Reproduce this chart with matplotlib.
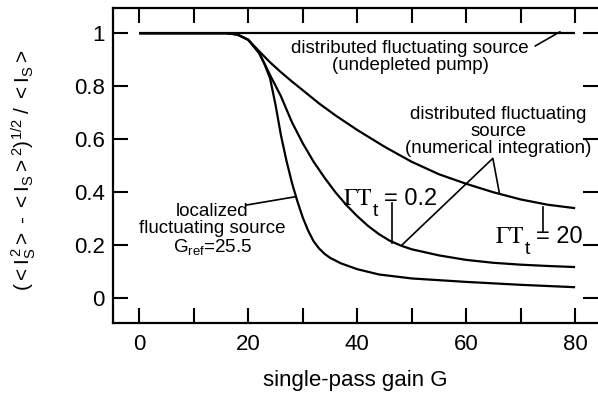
import matplotlib
matplotlib.use("Agg")
import matplotlib.pyplot as plt

plt.rcParams['font.family'] = ['Liberation Sans', 'DejaVu Sans']
plt.rcParams['mathtext.fontset'] = 'custom'
plt.rcParams['mathtext.rm'] = 'Liberation Sans'
plt.rcParams['mathtext.it'] = 'Liberation Sans:italic'
plt.rcParams['mathtext.sf'] = 'Liberation Sans'

# ---- data ----
g_flat = [0, 80]
y_flat = [1.0, 1.0]

g_num20 = [0, 16, 18, 20, 22, 24, 26, 28, 30, 33, 36, 40, 45, 50, 55, 60, 65, 70, 75, 80]
y_num20 = [1.0, 1.0, 0.995, 0.975, 0.932, 0.89, 0.853, 0.818, 0.785, 0.735, 0.69, 0.635,
           0.572, 0.515, 0.468, 0.432, 0.40, 0.373, 0.353, 0.34]

g_num02 = [0, 16, 18, 20, 22, 23, 24, 26, 28, 30, 32, 34, 36, 38, 40, 42, 44, 46, 48,
           50, 55, 60, 65, 70, 75, 80]
y_num02 = [1.0, 1.0, 0.995, 0.975, 0.925, 0.885, 0.842, 0.762, 0.665, 0.585, 0.515, 0.455,
           0.40, 0.352, 0.31, 0.273, 0.242, 0.217, 0.199, 0.185, 0.162, 0.145, 0.134,
           0.127, 0.122, 0.118]

g_loc = [0, 16, 18, 20, 22, 23, 24, 25, 26, 27, 28, 29, 30, 31, 32, 33, 34, 35, 37, 40,
         44, 50, 60, 70, 80]
y_loc = [1.0, 1.0, 0.995, 0.975, 0.925, 0.882, 0.83, 0.73, 0.615, 0.52, 0.437, 0.367,
         0.305, 0.255, 0.215, 0.188, 0.168, 0.153, 0.132, 0.11, 0.09, 0.075, 0.062, 0.051,
         0.042]

x_major = [0, 20, 40, 60, 80]
x_minor = [10, 30, 50, 70]
y_ticks = [0, 0.2, 0.4, 0.6, 0.8, 1]
y_ticklabels = ['0', '0.2', '0.4', '0.6', '0.8', '1']

# ---- figure ----
fig = plt.figure(figsize=(5.98, 3.93), dpi=100)
ax = fig.add_axes([113/598, 1-323/393, 1-113/598, (323-8)/393])

lw = 1.6
for g, y in [(g_flat, y_flat), (g_num20, y_num20), (g_num02, y_num02), (g_loc, y_loc)]:
    ax.plot(g, y, color='black', lw=lw, solid_capstyle='butt')

ax.set_xlim(-4.83, 84.2)
ax.set_ylim(-0.093, 1.095)

ax.set_xticks(x_major)
ax.set_xticks(x_minor, minor=True)
ax.set_yticks(y_ticks)
ax.set_yticklabels(y_ticklabels)
ax.tick_params(which='both', direction='in', length=11, width=1.5,
               top=True, right=True, labelsize=16, pad=6)
ax.tick_params(axis='x', pad=8)
for side in ['left', 'bottom', 'top']:
    ax.spines[side].set_linewidth(1.6)
ax.spines['right'].set_visible(False)

ax.set_xlabel('single-pass gain G', fontsize=16, labelpad=11)
fig.text(24/598, 1-170/393,
         r'$(<\mathrm{I}_\mathrm{S}^{\,2}>\ \text{-}\ <\mathrm{I}_\mathrm{S}>^2)^{1/2}\ /\ <\mathrm{I}_\mathrm{S}>$',
         rotation=90, ha='center', va='center', fontsize=15)

fs = 13.5
# undepleted pump
ax.text(49.7, 0.911, 'distributed fluctuating source\n(undepleted pump)',
        ha='center', va='center', fontsize=fs, linespacing=1.0)
ax.plot([72.7, 77.2], [0.952, 1.005], color='black', lw=1.2)

# numerical integration
ax.text(65.9, 0.631, 'distributed fluctuating\nsource\n(numerical integration)',
        ha='center', va='center', fontsize=fs, linespacing=1.0)
ax.plot([66.1, 64.9, 48.2], [0.396, 0.528, 0.201], color='black', lw=1.2)

# Gamma T = 0.2
ax.text(37.4, 0.352, r'$\Gamma\mathrm{T}$', math_fontfamily='stix',
        ha='left', va='baseline', fontsize=17)
ax.text(42.9, 0.31, 't', ha='left', va='baseline', fontsize=14)
ax.text(45.0, 0.352, '= 0.2', ha='left', va='baseline', fontsize=17)
ax.plot([46.3, 46.3], [0.36, 0.209], color='black', lw=1.2)

# Gamma T = 20
ax.text(65.3, 0.2075, r'$\Gamma\mathrm{T}$', math_fontfamily='stix',
        ha='left', va='baseline', fontsize=17)
ax.text(70.8, 0.166, 't', ha='left', va='baseline', fontsize=14)
ax.text(72.9, 0.2075, '= 20', ha='left', va='baseline', fontsize=17)
ax.plot([74.1, 74.1], [0.346, 0.255], color='black', lw=1.2)

# localized
ax.text(13.4, 0.257, 'localized\nfluctuating source\nG$_{\\mathrm{ref}}$=25.5',
        ha='center', va='center', fontsize=fs, linespacing=1.0)
ax.plot([19.7, 28.6], [0.352, 0.383], color='black', lw=1.2)

fig.savefig('out.png', dpi=100)
